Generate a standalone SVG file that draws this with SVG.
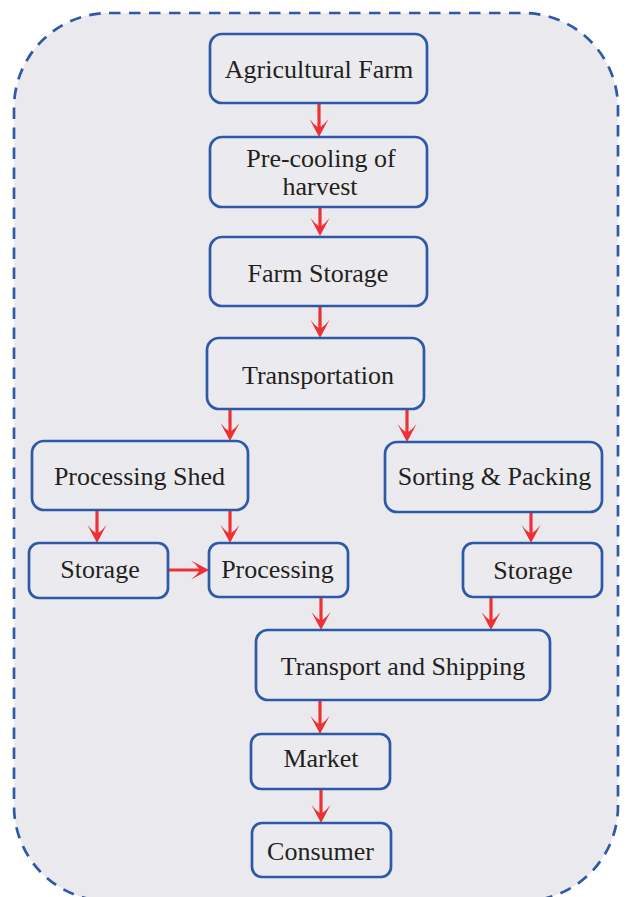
<svg xmlns="http://www.w3.org/2000/svg" width="627" height="897" viewBox="0 0 627 897">
<defs>
<style>
.node rect{fill:#EBEBEF;stroke:#2D59A8;stroke-width:2.7}
.node text{font-family:"Liberation Serif","Times New Roman",serif;font-size:26px;fill:#231F20;text-anchor:middle}
.conn line{stroke:#EE3034;stroke-width:3.2;fill:none}
</style>
<marker id="ah" viewBox="0 0 18 20" refX="10" refY="10" markerWidth="18" markerHeight="20" markerUnits="userSpaceOnUse" orient="auto">
<path d="M18,10 L0,0.5 Q6,5 9,10 Q6,15 0,19.5 Z" fill="#EE3034"/>
</marker>
</defs>
<rect x="14" y="13" width="604" height="888" rx="95" ry="95" fill="#EAEAEE" stroke="#2D59A8" stroke-width="2.7" stroke-dasharray="11.5 8.5"/>
<g class="conn">
<line x1="319" y1="103" x2="319" y2="129" marker-end="url(#ah)"/>
<line x1="320" y1="207" x2="320" y2="228" marker-end="url(#ah)"/>
<line x1="320" y1="306" x2="320" y2="330" marker-end="url(#ah)"/>
<line x1="230" y1="409" x2="230" y2="433" marker-end="url(#ah)"/>
<line x1="407" y1="409" x2="407" y2="434" marker-end="url(#ah)"/>
<line x1="97" y1="510" x2="97" y2="535" marker-end="url(#ah)"/>
<line x1="230" y1="510" x2="230" y2="535" marker-end="url(#ah)"/>
<line x1="168" y1="570" x2="201" y2="570" marker-end="url(#ah)"/>
<line x1="531" y1="512" x2="531" y2="535" marker-end="url(#ah)"/>
<line x1="321" y1="597" x2="321" y2="622" marker-end="url(#ah)"/>
<line x1="491" y1="597" x2="491" y2="622" marker-end="url(#ah)"/>
<line x1="320" y1="700" x2="320" y2="726" marker-end="url(#ah)"/>
<line x1="321" y1="789" x2="321" y2="815" marker-end="url(#ah)"/>
</g>
<g id="agricultural-farm" class="node"><rect x="210" y="34" width="217" height="69" rx="12"/><text x="319" y="78">Agricultural Farm</text></g>
<g id="pre-cooling" class="node"><rect x="210" y="137" width="217" height="70" rx="12"/><text x="321" y="167">Pre-cooling of</text><text x="320" y="195">harvest</text></g>
<g id="farm-storage" class="node"><rect x="210" y="237" width="217" height="69" rx="12"/><text x="318" y="282">Farm Storage</text></g>
<g id="transportation" class="node"><rect x="207" y="338" width="217" height="71" rx="12"/><text x="318" y="384">Transportation</text></g>
<g id="processing-shed" class="node"><rect x="32" y="441" width="216" height="69" rx="12"/><text x="139.5" y="485">Processing Shed</text></g>
<g id="sorting-packing" class="node"><rect x="385" y="442" width="217" height="70" rx="12"/><text x="494.5" y="485">Sorting &amp; Packing</text></g>
<g id="storage-left" class="node"><rect x="29" y="543" width="139" height="55" rx="10"/><text x="100" y="578">Storage</text></g>
<g id="processing" class="node"><rect x="209" y="543" width="139" height="54" rx="10"/><text x="277.5" y="578">Processing</text></g>
<g id="storage-right" class="node"><rect x="463" y="543" width="139" height="54" rx="10"/><text x="533" y="579">Storage</text></g>
<g id="transport-shipping" class="node"><rect x="256" y="630" width="294" height="70" rx="12"/><text x="403" y="675">Transport and Shipping</text></g>
<g id="market" class="node"><rect x="251" y="734" width="139" height="55" rx="10"/><text x="321" y="767">Market</text></g>
<g id="consumer" class="node"><rect x="252" y="823" width="139" height="54" rx="10"/><text x="320.5" y="860">Consumer</text></g>
</svg>
